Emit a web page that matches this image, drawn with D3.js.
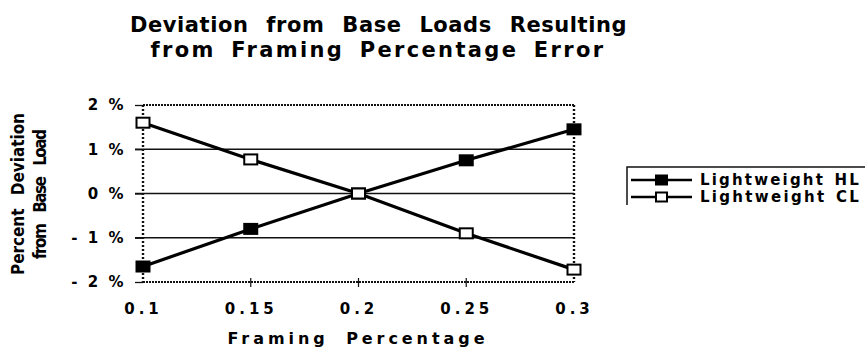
<!DOCTYPE html>
<html>
<head>
<meta charset="utf-8">
<script src="https://cdn.jsdelivr.net/npm/d3@7/dist/d3.min.js"></script>
<style>
  body { margin: 0; background: #fff; }
  svg { display: block; }
</style>
</head>
<body>
<svg id="chart" width="865" height="350"></svg>
<script>
// Framing percentage (x) and percent deviation from base load (y)
const framing = [0.1, 0.15, 0.2, 0.25, 0.3];
const lightweightHL = [-1.65, -0.8, 0, 0.75, 1.45];
const lightweightCL = [1.6, 0.77, 0, -0.9, -1.72];
const yTicks = [2, 1, 0, -1, -2];
const xTickLabels = ["0.1", "0.15", "0.2", "0.25", "0.3"];
const seriesNames = ["Lightweight HL", "Lightweight CL"];

const WIDE = "DejaVu Sans, Verdana, sans-serif";
const NARROW = "Liberation Sans Narrow, DejaVu Sans Condensed, Arial Narrow, sans-serif";

const svg = d3.select("#chart");
const plot = { left: 143, right: 574, top: 105, bottom: 282 };

const x = d3.scaleLinear().domain([0.1, 0.3]).range([plot.left, plot.right]);
const y = d3.scaleLinear().domain([-2, 2]).range([plot.bottom, plot.top]);

function label(sel) {
  return sel.attr("fill", "#000").attr("font-family", WIDE).attr("font-weight", "bold");
}

// Title: tight letters, wide word gaps
label(svg.append("text")).attr("x", 379).attr("y", 32).attr("text-anchor", "middle")
  .attr("font-size", 21).attr("letter-spacing", 1.5).attr("word-spacing", 10)
  .attr("textLength", 498).attr("lengthAdjust", "spacing")
  .text("Deviation from Base Loads Resulting");
label(svg.append("text")).attr("x", 378).attr("y", 57).attr("text-anchor", "middle")
  .attr("font-size", 21).attr("letter-spacing", 2.5).attr("word-spacing", 6)
  .attr("textLength", 455).attr("lengthAdjust", "spacing")
  .text("from Framing Percentage Error");

// Horizontal gridlines at inner ticks
svg.append("g").selectAll("line").data(yTicks.filter(d => d !== 2 && d !== -2)).join("line")
  .attr("x1", plot.left - 8).attr("x2", plot.right)
  .attr("y1", d => y(d)).attr("y2", d => y(d))
  .attr("stroke", "#111").attr("stroke-width", 1.3);

// Y axis ticks + labels
const yAxis = d3.axisLeft(y).tickValues(yTicks).tickSize(8).tickPadding(9)
  .tickFormat(d => (d < 0 ? "- " + Math.abs(d) : d) + " %");
const ya = svg.append("g").attr("transform", `translate(${plot.left},0)`).call(yAxis);
ya.select(".domain").remove();
ya.selectAll(".tick line").attr("stroke", "#111").attr("stroke-width", 1.3);
label(ya.selectAll(".tick text")).attr("font-size", 15).attr("letter-spacing", 2.5);

// Plot frame: jagged top/bottom, dotted sides
svg.append("g").selectAll("line").data([plot.top, plot.bottom]).join("line")
  .attr("x1", plot.left).attr("x2", plot.right).attr("y1", d => d).attr("y2", d => d)
  .attr("stroke", "#111").attr("stroke-width", 2.2).attr("stroke-dasharray", "2,1");
svg.append("g").selectAll("line").data([plot.left, plot.right]).join("line")
  .attr("x1", d => d).attr("x2", d => d).attr("y1", plot.top).attr("y2", plot.bottom)
  .attr("stroke", "#111").attr("stroke-width", 2.4).attr("stroke-dasharray", "2,2");

// X axis ticks + labels
const xAxis = d3.axisBottom(x).tickValues(framing).tickSize(0).tickPadding(21)
  .tickFormat((d, i) => xTickLabels[i]);
const xa = svg.append("g").attr("transform", `translate(0,${plot.bottom})`).call(xAxis);
xa.select(".domain").remove();
label(xa.selectAll(".tick text")).attr("font-size", 15).attr("letter-spacing", 4);
svg.append("g").selectAll("line").data(framing.slice(1, -1)).join("line")
  .attr("x1", d => x(d)).attr("x2", d => x(d))
  .attr("y1", plot.bottom - 4).attr("y2", plot.bottom + 5)
  .attr("stroke", "#111").attr("stroke-width", 1.2);

// Axis titles
label(svg.append("text")).attr("x", 357).attr("y", 344).attr("text-anchor", "middle")
  .attr("font-size", 16).attr("letter-spacing", 2).attr("word-spacing", 8)
  .attr("textLength", 259).attr("lengthAdjust", "spacing")
  .text("Framing Percentage");
const yt = svg.append("g").attr("transform", "translate(0,194) rotate(-90)");
yt.append("text").attr("x", 0).attr("y", 24).attr("text-anchor", "middle")
  .attr("font-size", 17).attr("font-family", NARROW).attr("font-weight", "bold")
  .attr("word-spacing", 8).attr("textLength", 162).attr("lengthAdjust", "spacing")
  .text("Percent Deviation");
yt.append("text").attr("x", 0).attr("y", 46).attr("text-anchor", "middle")
  .attr("font-size", 17).attr("font-family", NARROW).attr("font-weight", "bold")
  .attr("word-spacing", 8).attr("textLength", 130).attr("lengthAdjust", "spacing")
  .text("from Base Load");

// Series lines and markers
const line = d3.line().x((d, i) => x(framing[i])).y(d => y(d));
const series = [
  { name: seriesNames[0], values: lightweightHL, fill: "#000" },
  { name: seriesNames[1], values: lightweightCL, fill: "#fff" }
];
const mw = 13, mh = 10;
series.forEach(s => {
  svg.append("path").datum(s.values).attr("d", line)
    .attr("fill", "none").attr("stroke", "#000").attr("stroke-width", 3.2);
});
series.forEach(s => {
  svg.append("g").selectAll("rect").data(s.values).join("rect")
    .attr("x", (d, i) => x(framing[i]) - mw / 2).attr("y", d => y(d) - mh / 2)
    .attr("width", mw).attr("height", mh)
    .attr("fill", s.fill).attr("stroke", "#000").attr("stroke-width", 2);
});

// Legend
const legend = svg.append("g");
legend.append("path").attr("d", "M627,205 V167 H865")
  .attr("fill", "none").attr("stroke", "#111").attr("stroke-width", 1.5);
series.forEach((s, i) => {
  const ly = 180 + i * 17;
  legend.append("line").attr("x1", 631).attr("x2", 692).attr("y1", ly).attr("y2", ly)
    .attr("stroke", "#000").attr("stroke-width", 2.6);
  legend.append("rect").attr("x", 656).attr("y", ly - 4.5).attr("width", 11).attr("height", 9)
    .attr("fill", s.fill).attr("stroke", "#000").attr("stroke-width", 2);
  label(legend.append("text")).attr("x", 700).attr("y", ly + 5).attr("font-size", 15)
    .attr("letter-spacing", 1.2).attr("word-spacing", 2)
    .attr("textLength", 160).attr("lengthAdjust", "spacing")
    .text(s.name);
});
</script>
</body>
</html>
